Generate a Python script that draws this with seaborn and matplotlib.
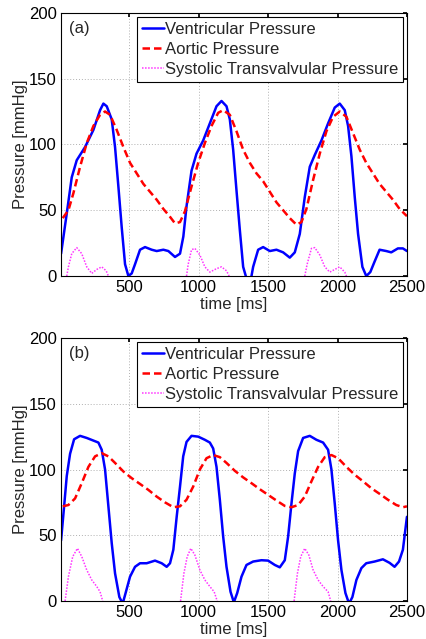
import matplotlib
matplotlib.use("Agg")
import matplotlib.pyplot as plt
import seaborn as sns
import pandas as pd

# ---- panel (a) ----
t_vent_a = [8, 49, 85, 121, 181, 241, 289, 313, 337, 373, 397, 421, 445, 469, 493, 517, 541,
            577, 613, 661, 697, 745, 781, 829, 865, 889, 912, 948, 984, 1032, 1080, 1128, 1164,
            1200, 1224, 1248, 1272, 1296, 1320, 1339, 1360, 1380, 1392, 1428, 1464, 1512, 1560,
            1608, 1656, 1692, 1728, 1764, 1800, 1836, 1884, 1932, 1980, 2016, 2052, 2076, 2100,
            2124, 2148, 2179, 2207, 2236, 2267, 2303, 2351, 2387, 2435, 2471, 2500]
p_vent_a = [17, 47.5, 75, 88, 98, 111, 126, 131, 129, 119, 98, 68, 37, 9, 0, 2, 9,
            20, 22, 20, 19, 20, 19, 14.5, 17, 30, 53, 80, 93, 103, 116, 129, 133,
            129, 119, 96, 65, 35, 7, 0, -8, 0, 7, 20, 22, 19, 20,
            18, 14, 18, 32, 60, 83, 92, 103, 116, 128, 131, 126, 114, 91,
            60, 32, 7, 0, 3, 11, 20, 19, 18, 21, 21, 19]

t_aort_a = [20, 61, 97, 145, 193, 241, 289, 325, 361, 409, 457, 505, 553, 601, 649, 697, 745,
            793, 829, 865, 900, 948, 996, 1044, 1092, 1140, 1176, 1224, 1272, 1320, 1368, 1416,
            1464, 1512, 1560, 1608, 1656, 1704, 1740, 1776, 1824, 1872, 1920, 1968, 2016, 2064,
            2112, 2160, 2207, 2255, 2303, 2351, 2399, 2447, 2500]
p_aort_a = [44, 50, 63, 83, 101, 114, 122.5, 125, 122.5, 111, 98, 86, 78, 70, 64, 58, 51,
            45, 40, 41, 49, 68, 86, 101, 114, 124, 126, 122.5, 110, 96, 86, 78,
            72, 64, 56, 50, 44, 39, 41, 51, 73, 93, 110, 121, 125, 121,
            108.5, 96, 86, 78, 70, 64, 58, 51, 45.5]

t_trans_a = [49, 61, 85, 121, 157, 193, 229, 265, 301, 333, 349,
             912, 924, 948, 972, 1008, 1044, 1080, 1128, 1164, 1200, 1219,
             1764, 1781, 1812, 1836, 1872, 1908, 1944, 1980, 2016, 2052, 2064]
p_trans_a = [0, 7, 17, 21.6, 17, 7, 2, 5, 7, 4, 0,
             0, 9, 20, 21, 16, 7, 3, 5.6, 7, 4, 0,
             0, 9, 21, 21.6, 16, 7, 3, 5, 7, 3, 0]
cyc_trans_a = [1] * 11 + [2] * 11 + [3] * 11

# ---- panel (b) ----
t_vent_b = [8, 30, 49, 73, 102, 145, 193, 241, 277, 301, 325, 349, 373, 397, 428, 452, 469,
            505, 541, 577, 625, 685, 733, 769, 793, 817, 841, 865, 888, 912, 948, 996, 1044,
            1080, 1104, 1128, 1152, 1176, 1200, 1229, 1253, 1277, 1308, 1344, 1392, 1452, 1500,
            1548, 1584, 1620, 1644, 1668, 1692, 1716, 1752, 1800, 1848, 1896, 1932, 1956, 1980,
            2004, 2028, 2057, 2083, 2107, 2136, 2172, 2207, 2267, 2327, 2375, 2411, 2443, 2471,
            2500]
p_vent_b = [46, 72, 95, 112, 123, 125.6, 124, 122, 120.5, 115, 100, 72, 44, 21, 3, -2, 4.5,
            18.5, 26, 28.7, 28.7, 30.7, 28.7, 26, 28.7, 39, 64, 87, 110, 121, 125.6, 125, 122.6,
            120.5, 116, 102, 77, 49, 26, 7, -1, 6, 18.5, 27.4, 30, 31, 30.7,
            27.4, 25.6, 31, 49, 74, 97, 114, 124, 125.6, 122.6, 120.5, 115, 100, 74,
            46, 23.6, 6, -2, 3, 16, 25, 28.7, 30, 31.7, 29, 26, 30, 39,
            64]

t_aort_b = [20, 61, 109, 157, 205, 253, 301, 349, 397, 457, 517, 577, 637, 697, 757, 817, 865,
            912, 960, 1008, 1056, 1104, 1152, 1200, 1260, 1320, 1380, 1440, 1500, 1560, 1620,
            1668, 1716, 1764, 1812, 1860, 1908, 1956, 2004, 2064, 2124, 2184, 2243, 2303, 2363,
            2423, 2471, 2500]
p_aort_b = [72, 73, 78, 89.6, 102, 110, 112.4, 110, 105, 98.5, 93.4, 89, 84.5, 79.4, 75, 71.3, 72,
            77, 87, 100, 108.6, 111, 109.4, 105, 99, 94, 89.6, 85, 80.7, 76.4, 72.3,
            71.3, 73, 79.4, 91, 102, 109.4, 111, 108.6, 102, 96, 91, 85.8, 81.5, 77,
            73, 71.3, 72]

t_trans_b = [37, 61, 92, 126, 157, 193, 229, 265, 289, 308,
             869, 893, 917, 943, 972, 1008, 1044, 1080, 1111, 1133,
             1687, 1711, 1735, 1764, 1793, 1824, 1860, 1896, 1932, 1951]
p_trans_b = [0, 18.5, 33.8, 40, 33.8, 23.6, 16, 11, 7, 0,
             0, 21, 33.8, 40, 35, 23.6, 16, 11, 7, 0,
             0, 21, 33.8, 40, 35, 23.6, 16, 11, 7, 0]
cyc_trans_b = [1] * 10 + [2] * 10 + [3] * 10

labels = ["Ventricular Pressure", "Aortic Pressure", "Systolic Transvalvular Pressure"]
x_ticks = [500, 1000, 1500, 2000, 2500]
y_ticks = [0, 50, 100, 150, 200]

sns.set_theme(style="white")
plt.rcParams["font.family"] = ["Liberation Sans", "DejaVu Sans"]

fig = plt.figure(figsize=(4.27, 6.39), dpi=100)
ax_a = fig.add_axes([0.143, 0.568, 0.810, 0.412])
ax_b = fig.add_axes([0.143, 0.0595, 0.810, 0.4115])

FS = 12


def draw_panel(ax, tag, tv, pv, ta, pa, tt, pt, ct):
    sns.lineplot(x=tv, y=pv, ax=ax, color="#0000ff", lw=1.8, label=labels[0], sort=False)
    sns.lineplot(x=ta, y=pa, ax=ax, color="#ff0000", lw=1.8, dashes=False,
                 linestyle=(0, (3.0, 1.6)), label=labels[1], sort=False)
    trans = pd.DataFrame({"t": tt, "p": pt, "cyc": ct})
    sns.lineplot(data=trans, x="t", y="p", units="cyc", estimator=None, ax=ax,
                 color="#ff33ff", lw=1.1, linestyle=(0, (1, 1)), sort=False)
    ax.plot([], [], color="#ff33ff", lw=1.1, linestyle=(0, (1, 1)), label=labels[2])

    ax.set_xlim(8, 2500)
    ax.set_ylim(0, 200)
    ax.set_xticks(x_ticks)
    ax.set_yticks(y_ticks)
    ax.grid(True, color="#b0b0b0", linestyle=(0, (1, 2)), linewidth=0.7)
    ax.tick_params(direction="in", length=3, top=True, right=True, labelsize=FS,
                   colors="black", pad=3)
    for s in ax.spines.values():
        s.set_color("black")
        s.set_linewidth(0.8)
    ax.set_xlabel("time [ms]", fontsize=FS, labelpad=1)
    ax.set_ylabel("Pressure [mmHg]", fontsize=FS, labelpad=1)
    ax.text(0.022, 0.94, tag, transform=ax.transAxes, fontsize=FS, va="center", ha="left")

    handles, labs = ax.get_legend_handles_labels()
    order = [labs.index(l) for l in labels]
    leg = ax.legend([handles[i] for i in order], [labs[i] for i in order],
                    loc="upper right", fontsize=FS, handlelength=1.3, handletextpad=0.05,
                    labelspacing=0.3, borderpad=0.3, borderaxespad=0.25,
                    fancybox=False, framealpha=1)
    leg.get_frame().set_edgecolor("black")
    leg.get_frame().set_linewidth(0.8)


draw_panel(ax_a, "(a)", t_vent_a, p_vent_a, t_aort_a, p_aort_a, t_trans_a, p_trans_a, cyc_trans_a)
draw_panel(ax_b, "(b)", t_vent_b, p_vent_b, t_aort_b, p_aort_b, t_trans_b, p_trans_b, cyc_trans_b)

fig.savefig("out.png", dpi=100)
